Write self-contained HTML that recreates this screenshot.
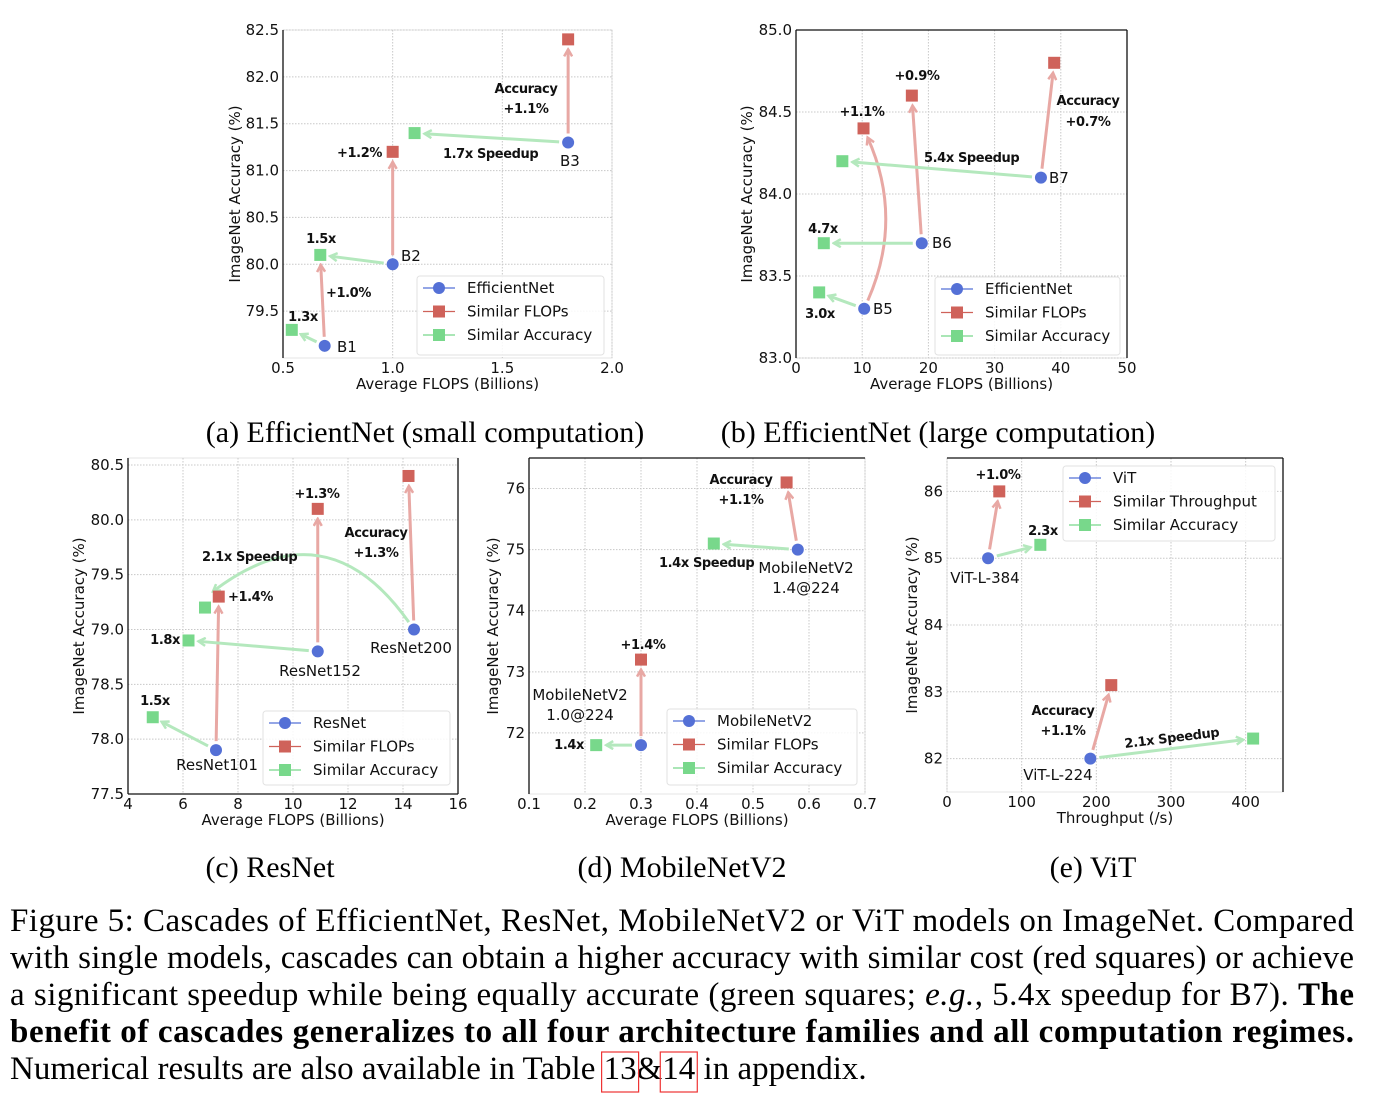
<!DOCTYPE html>
<html><head><meta charset="utf-8"><style>
html,body{margin:0;padding:0;background:#fff}
svg{display:block}
.t{font-family:"DejaVu Sans","Liberation Sans",sans-serif;font-size:15px;fill:#111}
.b{font-family:"DejaVu Sans","Liberation Sans",sans-serif;font-size:13px;font-weight:bold;fill:#111;letter-spacing:-0.4px}
.cap{font-family:"Liberation Serif",serif;font-size:30px;fill:#000}
.fig{font-family:"Liberation Serif",serif;font-size:33px;fill:#000}
</style></head><body>
<svg id="s" width="1376" height="1098" viewBox="0 0 1376 1098" xmlns="http://www.w3.org/2000/svg">
<defs>
<marker id="mr" markerWidth="10" markerHeight="10" refX="8" refY="5" orient="auto" markerUnits="userSpaceOnUse"><path d="M1,1 L8,5 L1,9" fill="none" stroke="#e8a8a4" stroke-width="2.5"/></marker>
<marker id="mg" markerWidth="10" markerHeight="10" refX="8" refY="5" orient="auto" markerUnits="userSpaceOnUse"><path d="M1,1 L8,5 L1,9" fill="none" stroke="#b4e8bd" stroke-width="2.5"/></marker>
</defs>
<g id="charts"></g>
<text class="cap" x="425" y="442" text-anchor="middle">(a) EfficientNet (small computation)</text>
<text class="cap" x="938" y="442" text-anchor="middle">(b) EfficientNet (large computation)</text>
<text class="cap" x="270" y="877" text-anchor="middle">(c) ResNet</text>
<text class="cap" x="682" y="877" text-anchor="middle">(d) MobileNetV2</text>
<text class="cap" x="1093" y="877" text-anchor="middle">(e) ViT</text>
<g>
<text class="fig" x="10" y="931" textLength="1344" lengthAdjust="spacing">Figure 5: Cascades of EfficientNet, ResNet, MobileNetV2 or ViT models on ImageNet. Compared</text>
<text class="fig" x="10" y="968" textLength="1344" lengthAdjust="spacing">with single models, cascades can obtain a higher accuracy with similar cost (red squares) or achieve</text>
<text class="fig" x="10" y="1005" textLength="1344" lengthAdjust="spacing">a significant speedup while being equally accurate (green squares; <tspan font-style="italic">e.g.</tspan>, 5.4x speedup for B7). <tspan font-weight="bold">The</tspan></text>
<text class="fig" x="10" y="1042" textLength="1344" lengthAdjust="spacing" font-weight="bold">benefit of cascades generalizes to all four architecture families and all computation regimes.</text>
<text class="fig" x="10" y="1079">Numerical results are also available in Table <tspan id="t13">13</tspan>&amp;<tspan id="t14">14</tspan> in appendix.</text>
<rect id="b13" x="614" y="1052" width="40" height="40" fill="none" stroke="#e33" stroke-width="1.2"/>
<rect id="b14" x="674" y="1052" width="40" height="40" fill="none" stroke="#e33" stroke-width="1.2"/>
</g>
</svg>
<script>
// Panel (a)
const aBaseX=[0.69,1.0,1.8], aBaseY=[79.13,80.0,81.3];
const aRedX=[1.0,1.8], aRedY=[81.2,82.4];
const aGreenX=[0.54,0.67,1.1], aGreenY=[79.3,80.1,81.4];
const aXTicks=[0.5,1.0,1.5,2.0], aYTicks=[79.5,80.0,80.5,81.0,81.5,82.0,82.5];
// Panel (b)
const bBaseX=[10.3,19,37], bBaseY=[83.3,83.7,84.1];
const bRedX=[10.2,17.5,39], bRedY=[84.4,84.6,84.8];
const bGreenX=[3.5,4.2,7], bGreenY=[83.4,83.7,84.2];
const bXTicks=[0,10,20,30,40,50], bYTicks=[83.0,83.5,84.0,84.5,85.0];
// Panel (c)
const cBaseX=[7.2,10.9,14.4], cBaseY=[77.9,78.8,79.0];
const cRedX=[7.3,10.9,14.2], cRedY=[79.3,80.1,80.4];
const cGreenX=[4.9,6.2,6.8], cGreenY=[78.2,78.9,79.2];
const cXTicks=[4,6,8,10,12,14,16], cYTicks=[77.5,78.0,78.5,79.0,79.5,80.0,80.5];
// Panel (d)
const dBaseX=[0.3,0.58], dBaseY=[71.8,75.0];
const dRedX=[0.3,0.56], dRedY=[73.2,76.1];
const dGreenX=[0.22,0.43], dGreenY=[71.8,75.1];
const dXTicks=[0.1,0.2,0.3,0.4,0.5,0.6,0.7], dYTicks=[72,73,74,75,76];
// Panel (e)
const eBaseX=[55,192], eBaseY=[85.0,82.0];
const eRedX=[70,220], eRedY=[86.0,83.1];
const eGreenX=[125,410], eGreenY=[85.2,82.3];
const eXTicks=[0,100,200,300,400], eYTicks=[82,83,84,85,86];

const NS="http://www.w3.org/2000/svg";
const root=document.getElementById('charts');
function mk(tag,attrs,parent){const e=document.createElementNS(NS,tag);for(const k in attrs)e.setAttribute(k,attrs[k]);(parent||root).appendChild(e);return e;}
function txt(s,x,y,cls,parent,anchor,rot){const e=mk('text',{x:x,y:y,class:cls,'text-anchor':anchor||'start'},parent);if(rot)e.setAttribute('transform','rotate(-90 '+x+' '+y+')');e.textContent=s;return e;}

const panels=[
 {id:'a',x0:0.5,x1:2.0,px0:283,px1:612,y0:79.0,y1:82.5,py0:358,py1:30,top:30,bx:aBaseX,by:aBaseY,rx:aRedX,ry:aRedY,gx:aGreenX,gy:aGreenY,xt:aXTicks,yt:aYTicks,fmtx:v=>v.toFixed(1),fmty:v=>v.toFixed(1),xl:'Average FLOPS (Billions)',leg:[417,276,187,79],names:['EfficientNet','Similar FLOPs','Similar Accuracy'],
  red:[[0,'g1'],[1,0],[2,1]],green:[[0,0],[1,1],[2,2]],spines:'l',ylx:240},
 {id:'b',x0:0,x1:50,px0:796,px1:1127,y0:83,y1:85,py0:358,py1:30,top:30,bx:bBaseX,by:bBaseY,rx:bRedX,ry:bRedY,gx:bGreenX,gy:bGreenY,xt:bXTicks,yt:bYTicks,fmtx:v=>String(v),fmty:v=>v.toFixed(1),xl:'Average FLOPS (Billions)',leg:[935,277,185,78],names:['EfficientNet','Similar FLOPs','Similar Accuracy'],
  red:[[0,0,40],[1,1],[2,2]],green:[[0,0],[1,1],[2,2]],spines:'ltr',ylx:752},
 {id:'c',x0:4,x1:16,px0:128,px1:458,y0:77.5,y1:80.5,py0:794,py1:465,top:458,bx:cBaseX,by:cBaseY,rx:cRedX,ry:cRedY,gx:cGreenX,gy:cGreenY,xt:cXTicks,yt:cYTicks,fmtx:v=>String(v),fmty:v=>v.toFixed(1),xl:'Average FLOPS (Billions)',leg:[263,711,187,74],names:['ResNet','Similar FLOPs','Similar Accuracy'],
  red:[[0,0],[1,1],[2,2]],green:[[0,0],[1,1],[2,2,110]],spines:'brl',ylx:84},
 {id:'d',x0:0.1,x1:0.7,px0:529,px1:865,y0:71,y1:76.5,py0:794,py1:458,top:458,bx:dBaseX,by:dBaseY,rx:dRedX,ry:dRedY,gx:dGreenX,gy:dGreenY,xt:dXTicks,yt:dYTicks,fmtx:v=>v.toFixed(1),fmty:v=>String(v),xl:'Average FLOPS (Billions)',leg:[667,709,190,76],names:['MobileNetV2','Similar FLOPs','Similar Accuracy'],
  red:[[0,0],[1,1]],green:[[0,0],[1,1]],spines:'lt',ylx:498},
 {id:'e',x0:0,x1:450,px0:947,px1:1283,y0:81.5,y1:86.5,py0:792,py1:458,top:458,bx:eBaseX,by:eBaseY,rx:eRedX,ry:eRedY,gx:eGreenX,gy:eGreenY,xt:eXTicks,yt:eYTicks,fmtx:v=>String(v),fmty:v=>String(v),xl:'Throughput (/s)',leg:[1063,466,212,75],names:['ViT','Similar Throughput','Similar Accuracy'],
  red:[[0,0],[1,1]],green:[[0,0],[1,1]],spines:'tr',ylx:917}
];

function arrow(g,x1,y1,x2,y2,col,curve){
  const dx=x2-x1,dy=y2-y1,L=Math.hypot(dx,dy),ux=dx/L,uy=dy/L;
  let sx=x1+ux*9,sy=y1+uy*9,ex=x2-ux*10,ey=y2-uy*10;
  let d='M'+sx+','+sy+' L'+ex+','+ey;
  if(curve){const mx=(x1+x2)/2-uy*curve,my=(y1+y2)/2+ux*curve;
    const ax=x2-mx,ay=y2-my,al=Math.hypot(ax,ay);ex=x2-ax/al*10;ey=y2-ay/al*10;
    const bx=mx-x1,by=my-y1,bl=Math.hypot(bx,by);sx=x1+bx/bl*9;sy=y1+by/bl*9;
    d='M'+sx+','+sy+' Q'+mx+','+my+' '+ex+','+ey;}
  const p=mk('path',{d:d,fill:'none',stroke:col==='r'?'#e8a8a4':'#b4e8bd','stroke-width':3,'marker-end':col==='r'?'url(#mr)':'url(#mg)'},g);
  
  
}

panels.forEach(P=>{
  const sx=v=>P.px0+(v-P.x0)/(P.x1-P.x0)*(P.px1-P.px0);
  const sy=v=>P.py0+(v-P.y0)/(P.y1-P.y0)*(P.py1-P.py0);
  const g=mk('g',{});
  
  
  const L=P.px0,R=P.px1,T=P.top,B=P.py0;
  mk('rect',{x:L,y:T,width:R-L,height:B-T,fill:'none',stroke:'#e4e4e4','stroke-width':1},g);
  P.xt.forEach(v=>{
    const x=sx(v);
    const gl=mk('line',{x1:x,x2:x,y1:T,y2:B,stroke:'#c8c8c8','stroke-dasharray':'1.5,1.5','stroke-width':1},g);
    
    
    const t=txt(P.fmtx(v),x,B+15,'t',g,'middle');
    
    
  });
  P.yt.forEach(v=>{
    const y=sy(v);
    const gl=mk('line',{x1:L,x2:R,y1:y,y2:y,stroke:'#c8c8c8','stroke-dasharray':'1.5,1.5','stroke-width':1},g);
    
    
    const t=txt(P.fmty(v),L-4,y+5,'t',g,'end');
    
    
  });
  const sp={l:[L,T,L,B],r:[R,T,R,B],t:[L,T,R,T],b:[L,B,R,B]};
  P.spines.split('').forEach(k=>{const s=sp[k];const e=mk('line',{x1:s[0],y1:s[1],x2:s[2],y2:s[3],stroke:'#111','stroke-width':1.3},g);
    
    });
  const xl=txt(P.xl,(L+R)/2,B+31,'t',g,'middle');
  
  
  const yl=txt('ImageNet Accuracy (%)',P.ylx,(T+B)/2,'t',g,'middle',true);
  
  
  P.red.forEach(r=>{const bi=r[0];let tx,ty;if(r[1]==='g1'){tx=sx(P.gx[1]);ty=sy(P.gy[1]);}else{tx=sx(P.rx[r[1]]);ty=sy(P.ry[r[1]]);}
    arrow(g,sx(P.bx[bi]),sy(P.by[bi]),tx,ty,'r',r[2]);});
  P.green.forEach(r=>arrow(g,sx(P.bx[r[0]]),sy(P.by[r[0]]),sx(P.gx[r[1]]),sy(P.gy[r[1]])-(r[2]?10:0),'g',r[2]));
  P.gx.forEach((v,i)=>{const m=mk('rect',{x:sx(v)-6,y:sy(P.gy[i])-6,width:12,height:12,fill:'#78d88b'},g);
    
    });
  P.rx.forEach((v,i)=>{const m=mk('rect',{x:sx(v)-6,y:sy(P.ry[i])-6,width:12,height:12,fill:'#cf625a'},g);
    
    });
  P.bx.forEach((v,i)=>{const m=mk('circle',{cx:sx(v),cy:sy(P.by[i]),r:6,fill:'#5470d6'},g);
    
    });
  const [lx,ly,lw,lh]=P.leg;
  const lg=mk('g',{},g);
  
  
  mk('rect',{x:lx,y:ly,width:lw,height:lh,rx:3,fill:'#fff','fill-opacity':0.85,stroke:'#e2e2e2'},lg);
  const cols=['#5470d6','#cf625a','#78d88b'];
  P.names.forEach((n,i)=>{const yy=ly+12+i*23.5;
    const le=mk('g',{},lg);
    
    
    mk('line',{x1:lx+6,x2:lx+38,y1:yy,y2:yy,stroke:cols[i],'stroke-width':1.2},le);
    if(i===0)mk('circle',{cx:lx+22,cy:yy,r:6,fill:cols[i]},le);else mk('rect',{x:lx+16,y:yy-6,width:12,height:12,fill:cols[i]},le);
    txt(n,lx+50,yy+5,'t',le);});
});

const ann=[
 ['Accuracy',526,93,'b','middle'],['+1.1%',526,113,'b','middle'],['+1.2%',382,157,'b','end'],['1.7x Speedup',443,158,'b','start'],
 ['B3',560,166,'t','start'],['B2',401,261,'t','start'],['B1',337,352,'t','start'],['1.5x',321,243,'b','middle'],['1.3x',303,321,'b','middle'],['+1.0%',326,297,'b','start'],
 ['+0.9%',917,80,'b','middle'],['+1.1%',862,116,'b','middle'],['Accuracy',1088,105,'b','middle'],['+0.7%',1088,126,'b','middle'],['5.4x Speedup',924,162,'b','start'],
 ['B7',1049,183,'t','start'],['B6',932,248,'t','start'],['B5',873,314,'t','start'],['4.7x',823,233,'b','middle'],['3.0x',820,318,'b','middle'],
 ['+1.3%',317,498,'b','middle'],['Accuracy',376,537,'b','middle'],['+1.3%',376,557,'b','middle'],['2.1x Speedup',202,561,'b','start'],['+1.4%',228,601,'b','start'],
 ['1.8x',180,644,'b','end'],['1.5x',155,705,'b','middle'],['ResNet200',411,653,'t','middle'],['ResNet152',320,676,'t','middle'],['ResNet101',217,770,'t','middle'],
 ['Accuracy',741,484,'b','middle'],['+1.1%',741,504,'b','middle'],['1.4x Speedup',659,567,'b','start'],['MobileNetV2',806,573,'t','middle'],['1.4@224',806,593,'t','middle'],
 ['+1.4%',643,649,'b','middle'],['MobileNetV2',580,700,'t','middle'],['1.0@224',580,720,'t','middle'],['1.4x',584,749,'b','end'],
 ['+1.0%',998,479,'b','middle'],['2.3x',1043,535,'b','middle'],['ViT-L-384',985,583,'t','middle'],['Accuracy',1063,715,'b','middle'],['+1.1%',1063,735,'b','middle'],['ViT-L-224',1058,780,'t','middle']
];
ann.forEach(a=>{const t=txt(a[0],a[1],a[2],a[3],root,a[4]);
  
  });
const rot=txt('2.1x Speedup',1125,748,'b',root,'start');
rot.setAttribute('transform','rotate(-7 1125 748)');



['13','14'].forEach(id=>{try{const bb=document.getElementById('t'+id).getBBox();const r=document.getElementById('b'+id);
  r.setAttribute('x',bb.x-2);r.setAttribute('y',1052);r.setAttribute('width',bb.width+4);r.setAttribute('height',40);}catch(e){}});
</script>
</body></html>
